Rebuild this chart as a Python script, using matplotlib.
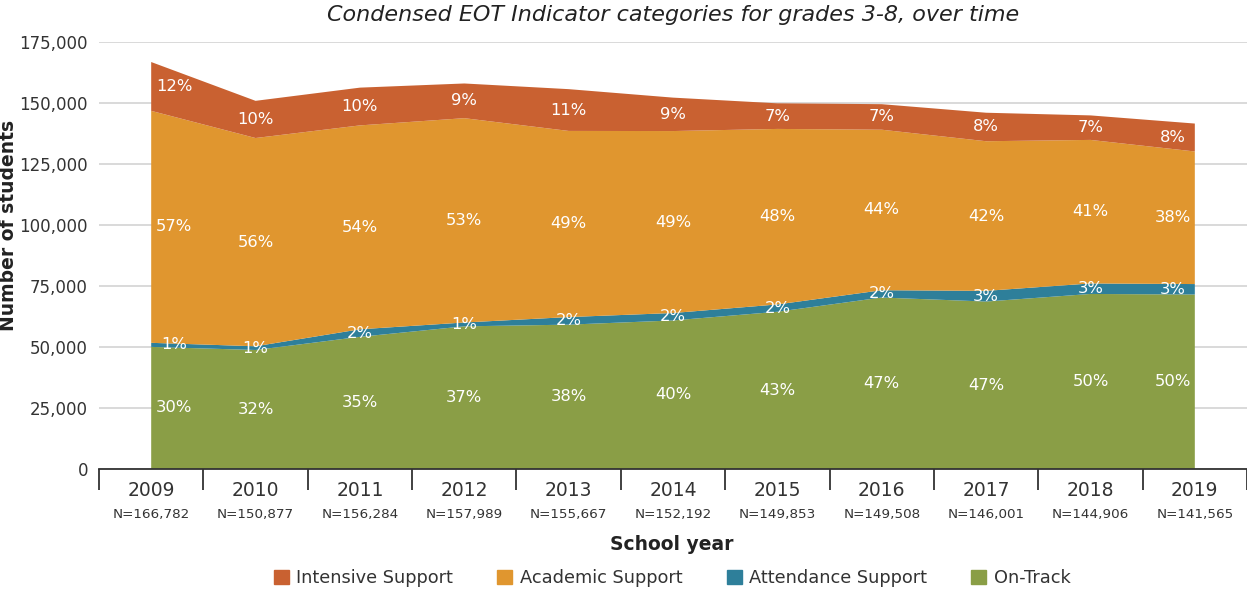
import matplotlib.pyplot as plt
import numpy as np
from matplotlib.patches import Patch
from matplotlib.ticker import FuncFormatter, FixedLocator

plt.rcParams['font.family'] = ['DejaVu Sans']

years = ["2009", "2010", "2011", "2012", "2013", "2014", "2015", "2016", "2017", "2018", "2019"]
n_students = [166782, 150877, 156284, 157989, 155667, 152192, 149853, 149508, 146001, 144906, 141565]

# percent of students in each condensed category, bottom to top
on_track = [30, 32, 35, 37, 38, 40, 43, 47, 47, 50, 50]
attendance = [1, 1, 2, 1, 2, 2, 2, 2, 3, 3, 3]
academic = [57, 56, 54, 53, 49, 49, 48, 44, 42, 41, 38]
intensive = [12, 10, 10, 9, 11, 9, 7, 7, 8, 7, 8]

labels = ["On-Track", "Attendance Support", "Academic Support", "Intensive Support"]
colors = ["#8A9E46", "#2E7F9A", "#E0962F", "#C96131"]

n = np.array(n_students, dtype=float)
shares = [np.array(p, dtype=float) for p in (on_track, attendance, academic, intensive)]
total_pct = sum(shares)  # rounded shares do not always add to 100
counts = [n * p / total_pct for p in shares]
x = np.arange(len(years))

fig = plt.figure(figsize=(12.47, 5.92), dpi=100)
ax = fig.add_axes([0.0794, 0.2078, 0.9206, 0.7213])

ax.stackplot(x, *counts, colors=colors, linewidth=0, zorder=2)

# percentage labels at the middle of each layer; end labels nudged inside the area
label_x = x.astype(float)
label_x[0] += 0.22
label_x[-1] -= 0.21
base = np.zeros(len(years))
for cnt, pct in zip(counts, shares):
    mid = base + cnt / 2
    for xi, yi, p in zip(label_x, mid, pct):
        ax.text(xi, yi, f"{int(p)}%", color="white", fontsize=11.8, ha="center", va="center", zorder=3)
    base = base + cnt

ax.set_xlim(-0.5, len(years) - 0.5)
ax.set_ylim(0, 175000)
ax.yaxis.set_major_locator(FixedLocator(np.arange(0, 175001, 25000)))
ax.yaxis.set_major_formatter(FuncFormatter(lambda v, _: f"{int(v):,}"))
ax.yaxis.grid(True, color="#D3D3D3", linewidth=1.2, zorder=0)
ax.set_axisbelow(True)

ax.set_xticks(x)
ax.set_xticklabels(years)
ax.set_xticks(np.arange(-0.5, len(years)), minor=True)
ax.tick_params(axis="x", which="major", length=0, pad=9, labelsize=13.5, colors="#333333")
ax.tick_params(axis="x", which="minor", length=15, width=1.3, color="#333333")
ax.tick_params(axis="y", length=0, pad=8, labelsize=12, colors="#333333")
for xi, nn in zip(x, n_students):
    ax.text(xi, -0.106, f"N={nn:,}", transform=ax.get_xaxis_transform(),
            ha="center", va="center", fontsize=9.7, color="#333333")

for side in ["top", "right", "left"]:
    ax.spines[side].set_visible(False)
ax.spines["bottom"].set_color("#333333")
ax.spines["bottom"].set_linewidth(1.3)

fig.text(0.54, 0.975, "Condensed EOT Indicator categories for grades 3-8, over time",
         ha="center", va="center", fontsize=16, style="italic", color="#222222")
fig.text(0.0065, 0.62, "Number of students", rotation=90, ha="center", va="center",
         fontsize=13.5, fontweight="bold", color="#222222")
fig.text(0.539, 0.08, "School year", ha="center", va="center", fontsize=13.5,
         fontweight="bold", color="#222222")

handles = [Patch(color=c, label=l) for c, l in zip(colors, labels)][::-1]
fig.legend(handles=handles, loc="center", bbox_to_anchor=(0.539, 0.024), ncol=4,
           frameon=False, fontsize=12.8, handlelength=0.85, handleheight=0.85,
           columnspacing=2.5, handletextpad=0.4, labelcolor="#333333")

fig.savefig("out.png", dpi=100)
